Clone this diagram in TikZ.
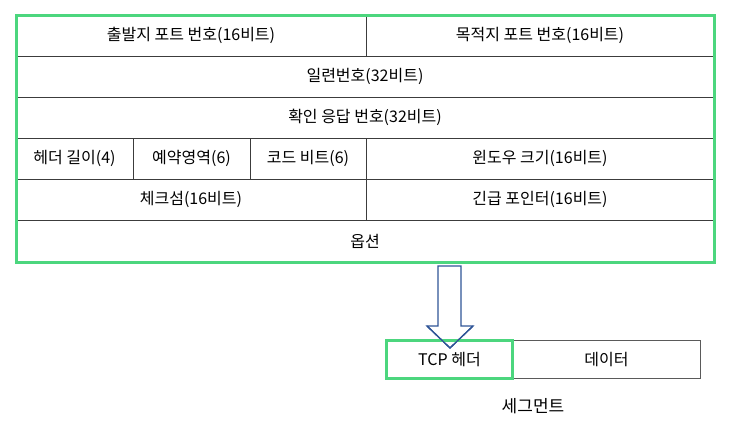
\documentclass[tikz,border=0pt]{standalone}
\usepackage{fontspec}
\setmainfont{Noto Sans CJK KR}
\definecolor{hdrgreen}{RGB}{76,214,126}
\definecolor{arrblue}{RGB}{47,85,151}
\definecolor{celline}{RGB}{60,60,60}
\definecolor{segline}{RGB}{90,90,90}
\begin{document}
\begin{tikzpicture}[x=1pt,y=-1pt,
  cell/.style={draw=celline, line width=0.8pt, inner sep=0pt, font=\fontsize{16}{18}\selectfont},
  lbl/.style={inner sep=0pt, font=\fontsize{17}{19}\selectfont}]
\useasboundingbox (0,0) rectangle (729,429);
% row 1
\node[cell, minimum width=350pt, minimum height=41pt] (src) at (191,35.5) {출발지 포트 번호(16비트)};
\node[cell, minimum width=348pt, minimum height=41pt] (dst) at (540,35.5) {목적지 포트 번호(16비트)};
% row 2,3
\node[cell, minimum width=698pt, minimum height=41pt] (seq) at (365,76.5) {일련번호(32비트)};
\node[cell, minimum width=698pt, minimum height=41pt] (ack) at (365,117.5) {확인 응답 번호(32비트)};
% row 4
\node[cell, minimum width=117pt, minimum height=41pt] (hlen) at (74.5,158.5) {헤더 길이(4)};
\node[cell, minimum width=117pt, minimum height=41pt] (resv) at (191.5,158.5) {예약영역(6)};
\node[cell, minimum width=116pt, minimum height=41pt] (code) at (308,158.5) {코드 비트(6)};
\node[cell, minimum width=348pt, minimum height=41pt] (win) at (540,158.5) {윈도우 크기(16비트)};
% row 5
\node[cell, minimum width=350pt, minimum height=41pt] (chk) at (191,199.5) {체크섬(16비트)};
\node[cell, minimum width=348pt, minimum height=41pt] (urg) at (540,199.5) {긴급 포인터(16비트)};
% row 6
\node[cell, minimum width=698pt, minimum height=42pt] (opt) at (365,241) {옵션};
% outer green frame
\draw[hdrgreen, line width=3pt] (16,15) rectangle (714,262);
% block arrow
\draw[arrblue, line width=1.3pt, fill=white, line join=miter]
  (438,266) -- (461,266) -- (461,326) -- (473,326) -- (450,348) -- (427,326) -- (438,326) -- cycle;
% segment
\node[cell, draw=segline, minimum width=187pt, minimum height=38pt] (data) at (606.5,359.5) {데이터};
\node[cell, draw=hdrgreen, line width=3pt, minimum width=126pt, minimum height=38pt, fill=none] (tcph) at (449.5,359.5) {TCP 헤더};
\draw[arrblue, line width=1.3pt, line join=miter] (427,326) -- (450,348) -- (473,326);
\node[lbl] (seg) at (533,406) {세그먼트};
\end{tikzpicture}
\end{document}
